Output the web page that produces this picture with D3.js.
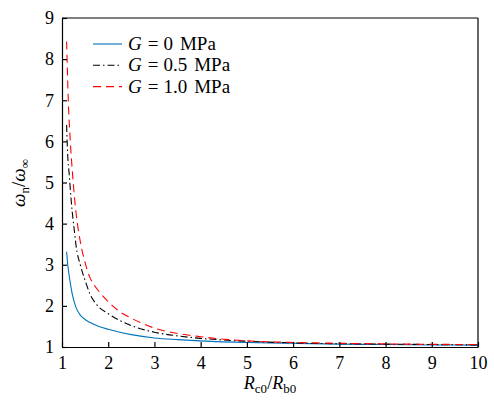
<!DOCTYPE html>
<html><head><meta charset="utf-8">
<script src="https://cdn.jsdelivr.net/npm/d3@7"></script>
<style>
body{margin:0;background:#fff;}
text{font-family:"Liberation Serif","DejaVu Serif",serif;fill:#000;}
</style></head>
<body><svg id="c" width="494" height="400"></svg>
<script>
const xTicks = [1,2,3,4,5,6,7,8,9,10];
const yTicks = [1,2,3,4,5,6,7,8,9];

const xBlue = [1.1,1.12,1.15,1.19,1.25,1.3,1.4,1.5,1.6,1.8,2.0,2.5,3.0,3.5,4.0,5,6,7,8,9,10];
const yBlue = [3.32,3.05,2.78,2.48,2.15,1.97,1.77,1.67,1.6,1.5,1.43,1.3,1.22,1.18,1.15,1.11,1.09,1.07,1.06,1.05,1.045];

const xBlack = [1.1,1.12,1.158,1.2,1.28,1.3,1.4,1.5,1.6,1.75,2.0,2.5,3.0,3.5,4.0,4.5,5,6,7,8,9,10];
const yBlack = [6.4,5.75,5.18,4.55,3.7,3.5,2.98,2.62,2.3,2.03,1.81,1.52,1.36,1.27,1.21,1.17,1.14,1.10,1.08,1.07,1.06,1.05];

const xRed = [1.1,1.136,1.18,1.23,1.3,1.39,1.5,1.6,1.7,1.8,2.0,2.25,2.5,3.0,3.5,4.0,4.5,5,6,7,8,9,10];
const yRed = [8.43,7.0,6.0,5.18,4.3,3.6,3.05,2.7,2.5,2.35,2.1,1.86,1.7,1.46,1.33,1.25,1.19,1.15,1.11,1.09,1.075,1.065,1.06];

const seriesNames = ["0","0.5","1.0"];
const seriesColors = ["#0072BD","#000000","#FF0000"];
const seriesDash = ["none","7,3,1.5,3","8,5"];

const FONT = '"Liberation Serif","DejaVu Serif",serif';
const svg = d3.select("#c");
const L=62, R=478, T=18, B=347;
const x = d3.scaleLinear().domain([1,10]).range([L,R]);
const y = d3.scaleLinear().domain([1,9]).range([B,T]);

svg.append("defs").append("clipPath").attr("id","clip")
  .append("rect").attr("x",L).attr("y",T).attr("width",R-L).attr("height",B-T);

const data = [
  xBlue.map((v,i)=>[v,yBlue[i]]),
  xBlack.map((v,i)=>[v,yBlack[i]]),
  xRed.map((v,i)=>[v,yRed[i]])
];
const line = d3.line().x(d=>x(d[0])).y(d=>y(d[1])).curve(d3.curveMonotoneX);
const g = svg.append("g").attr("clip-path","url(#clip)");
data.forEach((d,i)=>{
  g.append("path").attr("d",line(d)).attr("fill","none")
   .attr("stroke",seriesColors[i]).attr("stroke-width",1.1)
   .attr("stroke-dasharray",seriesDash[i]);
});

// axes
const xAxis = d3.axisBottom(x).tickValues(xTicks).tickSizeInner(-5).tickSizeOuter(0).tickPadding(9);
const yAxis = d3.axisLeft(y).tickValues(yTicks).tickSizeInner(-5).tickSizeOuter(0).tickPadding(8);
const gx = svg.append("g").attr("transform",`translate(0,${B})`).call(xAxis);
const gy = svg.append("g").attr("transform",`translate(${L},0)`).call(yAxis);
[gx,gy].forEach(a=>{
  a.selectAll("path").attr("stroke","#000").attr("stroke-width",1.2);
  a.selectAll("line").attr("stroke","#000").attr("stroke-width",1.2);
  a.selectAll("text").attr("font-size",18).attr("font-family",FONT);
});
// frame top/right
svg.append("line").attr("x1",L).attr("x2",R).attr("y1",T).attr("y2",T).attr("stroke","#000").attr("stroke-width",1.2);
svg.append("line").attr("x1",R).attr("x2",R).attr("y1",T).attr("y2",B).attr("stroke","#000").attr("stroke-width",1.2);

// legend
const leg = svg.append("g");
seriesNames.forEach((n,i)=>{
  const yy = 44 + i*21.3;
  leg.append("line").attr("x1",93).attr("x2",122).attr("y1",yy).attr("y2",yy)
    .attr("stroke",seriesColors[i]).attr("stroke-width",1.1).attr("stroke-dasharray",seriesDash[i]);
  const t = leg.append("text").attr("x",128).attr("y",yy+6).attr("font-size",19).attr("font-family",FONT);
  t.append("tspan").attr("font-style","italic").text("G");
  t.append("tspan").attr("dx",6).text("=");
  t.append("tspan").attr("dx",5).text(n);
  t.append("tspan").attr("dx",7).text("MPa");
});

// x label
const xl = svg.append("text").attr("x",270).attr("y",389).attr("text-anchor","middle").attr("font-size",18).attr("font-family",FONT);
xl.append("tspan").attr("font-style","italic").text("R");
xl.append("tspan").attr("font-size",13).attr("dy",4).text("c0");
xl.append("tspan").attr("dy",-4).text("/");
xl.append("tspan").attr("font-style","italic").text("R");
xl.append("tspan").attr("font-size",13).attr("dy",4).text("b0");

// y label
const yl = svg.append("text").attr("transform","translate(25,183) rotate(-90)").attr("text-anchor","middle").attr("font-size",19).attr("font-family",FONT);
yl.append("tspan").attr("font-style","italic").text("ω");
yl.append("tspan").attr("font-size",13).attr("dy",4).text("n");
yl.append("tspan").attr("dy",-4).text("/");
yl.append("tspan").attr("font-style","italic").text("ω");
yl.append("tspan").attr("font-size",13).attr("dy",4).text("∞");
</script></body></html>
